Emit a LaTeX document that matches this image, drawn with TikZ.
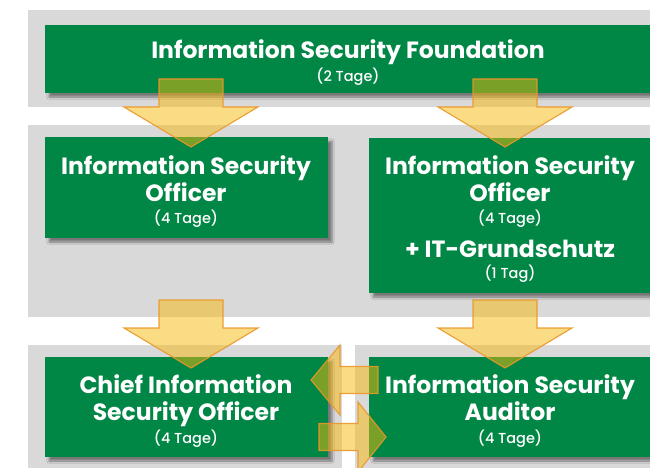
\documentclass[tikz,border=0pt]{standalone}
\usepackage{fontspec}
\setmainfont{Poppins}
\newfontfamily\boxfont{Poppins}
\newfontfamily\medfont{Poppins Medium}
\usetikzlibrary{shadows.blur}
\definecolor{grn}{RGB}{0,134,69}
\definecolor{bandgray}{RGB}{217,217,217}
\definecolor{arrfill}{RGB}{247,186,10}
\definecolor{arrline}{RGB}{235,150,40}
\newcommand\dnblk[2]{%
  \draw[blk] (#1-32,#2-68) -- (#1+32,#2-68) -- (#1+32,#2-40) -- (#1+67,#2-40)
    -- (#1,#2) -- (#1-67,#2-40) -- (#1-32,#2-40) -- cycle;}
\begin{document}
\begin{tikzpicture}[x=1pt,y=-1pt,
  band/.style={fill=bandgray, draw=none},
  gbox/.style={fill=grn, draw=none, outer sep=0pt, inner sep=0pt, anchor=north west,
    blur shadow={shadow xshift=4pt, shadow yshift=-4pt, shadow blur steps=6, shadow opacity=45}},
  big/.style={text=white, font=\boxfont\bfseries\fontsize{23.5}{23.5}\selectfont, anchor=base, inner sep=0pt},
  ttl/.style={text=white, font=\boxfont\bfseries\fontsize{23.5}{23.5}\selectfont, anchor=base, inner sep=0pt},
  small/.style={text=white, font=\medfont\fontsize{14.5}{14.5}\selectfont, anchor=base, inner sep=0pt},
  blk/.style={fill=arrfill, fill opacity=0.5, draw=arrline, draw opacity=0.9, line width=1.1pt, line join=miter}
]
\useasboundingbox[fill=white] (0,0) rectangle (650,468);
% bands
\fill[band] (28,10) rectangle (650,107);
\fill[band] (28,125) rectangle (650,317);
\fill[band] (28,345) rectangle (342,468);
\fill[band] (355,345) rectangle (650,468);
% boxes
\node[gbox, minimum width=605pt, minimum height=68pt] (found) at (45,25) {};
\node[gbox, minimum width=283pt, minimum height=101pt] (isoL) at (45,137) {};
\node[gbox, minimum width=281pt, minimum height=155pt] (isoR) at (369,138) {};
\node[gbox, minimum width=283pt, minimum height=100pt] (ciso) at (45,357) {};
\node[gbox, minimum width=281pt, minimum height=100pt] (aud) at (369,357) {};
% texts
\node[ttl] (t1) at (348,59) {Information Security Foundation};
\node[small] (t2) at (348,82) {(2 Tage)};
\node[big] (l1) at (186,174) {Information Security};
\node[big] (l2) at (186,201.7) {Officer};
\node[small] (l3) at (186,223) {(4 Tage)};
\node[big] (r1) at (510,174) {Information Security};
\node[big] (r2) at (510,201.7) {Officer};
\node[small] (r3) at (510,223) {(4 Tage)};
\node[big] (r4) at (510,257.3) {+ IT-Grundschutz};
\node[small] (r5) at (510,278) {(1 Tag)};
\node[big] (c1) at (186,393.3) {Chief Information};
\node[big] (c2) at (186,420.7) {Security Officer};
\node[small] (c3) at (186,443) {(4 Tage)};
\node[big] (a1) at (510,393.3) {Information Security};
\node[big] (a2) at (510,420.7) {Auditor};
\node[small] (a3) at (510,443) {(4 Tage)};
% block arrows
\dnblk{191}{147}
\dnblk{505}{147}
\dnblk{191}{368}
\dnblk{505}{368}
\draw[blk] (311,380) -- (340,345) -- (340,366.5) -- (378,366.5) -- (378,393.5)
  -- (340,393.5) -- (340,415) -- cycle;
\draw[blk] (386,437) -- (358,402) -- (358,423.5) -- (319,423.5) -- (319,450.5)
  -- (358,450.5) -- (358,472) -- cycle;
\end{tikzpicture}
\end{document}
